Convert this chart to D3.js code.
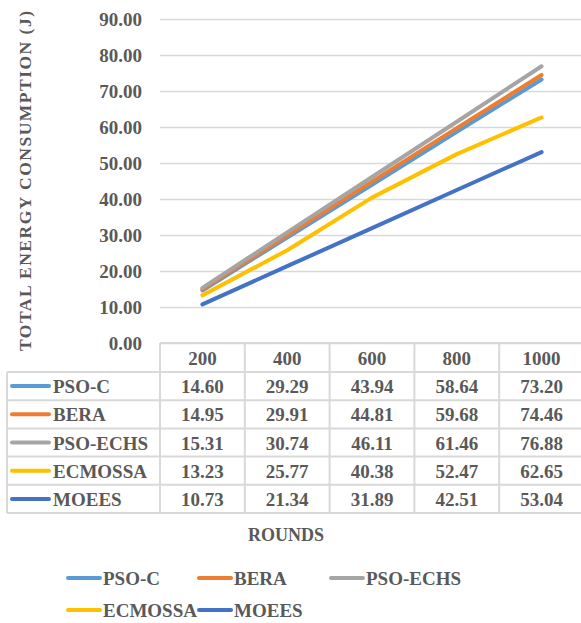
<!DOCTYPE html>
<html>
<head>
<meta charset="utf-8">
<script src="https://cdn.jsdelivr.net/npm/d3@7/dist/d3.min.js"></script>
<style>
  html, body { margin: 0; padding: 0; background: #fff; }
  svg { display: block; }
</style>
</head>
<body>
<svg id="chart" width="581" height="623"></svg>
<script>
const rounds = ["200", "400", "600", "800", "1000"];
const seriesNames = ["PSO-C", "BERA", "PSO-ECHS", "ECMOSSA", "MOEES"];
const psoC = [14.60, 29.29, 43.94, 58.64, 73.20];
const bera = [14.95, 29.91, 44.81, 59.68, 74.46];
const psoEchs = [15.31, 30.74, 46.11, 61.46, 76.88];
const ecmossa = [13.23, 25.77, 40.38, 52.47, 62.65];
const moees = [10.73, 21.34, 31.89, 42.51, 53.04];
const yTicks = [0, 10, 20, 30, 40, 50, 60, 70, 80, 90];
const colors = ["#5B9BD5", "#ED7D31", "#A5A5A5", "#FFC000", "#4472C4"];

(function () {
const series = [psoC, bera, psoEchs, ecmossa, moees].map((v, i) => ({ name: seriesNames[i], values: v, color: colors[i] }));
const FONT = "'Liberation Serif', Tinos, 'Times New Roman', 'DejaVu Serif', serif";

const svg = d3.select("#chart");
const pLeft = 160, pRight = 584, pTop = 19, pBottom = 343;
const x = d3.scaleBand().domain(rounds).range([pLeft, pRight]);
const y = d3.scaleLinear().domain([0, 90]).range([pBottom, pTop]);
const grid = "#D9D9D9";

const yAxis = d3.axisLeft(y).tickValues(yTicks).tickFormat(d3.format(".2f"))
  .tickSizeInner(-(pRight - pLeft)).tickSizeOuter(0).tickPadding(18);
const ga = svg.append("g").attr("transform", `translate(${pLeft},0)`).call(yAxis);
ga.select(".domain").remove();
ga.selectAll(".tick line").attr("stroke", grid).attr("stroke-width", 1.5);
ga.selectAll(".tick text").attr("font-size", 19);

svg.append("text").attr("transform", `translate(31,181) rotate(-90)`)
  .attr("text-anchor", "middle").attr("font-size", 17.5)
  .attr("textLength", 340).attr("lengthAdjust", "spacing")
  .text("TOTAL ENERGY CONSUMPTION (J)");

const line = d3.line().x((d, i) => x(rounds[i]) + x.bandwidth() / 2).y(d => y(d));
svg.append("g").selectAll("path").data(series).join("path")
  .attr("d", d => line(d.values)).attr("fill", "none")
  .attr("stroke", d => d.color).attr("stroke-width", 4).attr("stroke-linecap", "round").attr("stroke-linejoin", "round");

const tTop = 343, headerH = 29, rowH = 28.2, tLeft = 7;
const rowsTop = tTop + headerH;
const tg = svg.append("g");
const lineAttrs = s => s.attr("stroke", grid).attr("stroke-width", 2);
lineAttrs(tg.append("line").attr("x1", pLeft).attr("x2", pRight).attr("y1", tTop).attr("y2", tTop));
for (let r = 0; r <= series.length; r++) {
  const yy = rowsTop + r * rowH;
  lineAttrs(tg.append("line").attr("x1", tLeft).attr("x2", pRight).attr("y1", yy).attr("y2", yy));
}
const tBottom = rowsTop + series.length * rowH;
lineAttrs(tg.append("line").attr("x1", tLeft).attr("x2", tLeft).attr("y1", rowsTop).attr("y2", tBottom));
rounds.forEach(r => {
  lineAttrs(tg.append("line").attr("x1", x(r)).attr("x2", x(r)).attr("y1", tTop).attr("y2", tBottom));
});
tg.selectAll("text.hdr").data(rounds).join("text").attr("class", "hdr")
  .attr("x", d => x(d) + x.bandwidth() / 2).attr("y", tTop + headerH / 2 + 7)
  .attr("text-anchor", "middle").attr("font-size", 19).text(d => d);
series.forEach((s, i) => {
  const cy = rowsTop + i * rowH + rowH / 2;
  tg.append("line").attr("x1", 12).attr("x2", 49).attr("y1", cy).attr("y2", cy)
    .attr("stroke", s.color).attr("stroke-width", 4).attr("stroke-linecap", "round");
  tg.append("text").attr("x", 53).attr("y", cy + 7).attr("font-size", 19).text(s.name);
  s.values.forEach((v, j) => {
    tg.append("text").attr("x", x(rounds[j]) + x.bandwidth() / 2).attr("y", cy + 7)
      .attr("text-anchor", "middle").attr("font-size", 19).text(v.toFixed(2));
  });
});

svg.append("text").attr("x", 286).attr("y", 541).attr("text-anchor", "middle").attr("font-size", 18).text("ROUNDS");

const legendPos = [[67, 578], [198, 578], [330, 578], [67, 610], [198, 610]];
series.forEach((s, i) => {
  const [lx, ly] = legendPos[i];
  svg.append("line").attr("x1", lx + 1).attr("x2", lx + 33).attr("y1", ly).attr("y2", ly)
    .attr("stroke", s.color).attr("stroke-width", 4).attr("stroke-linecap", "round");
  svg.append("text").attr("x", lx + 36).attr("y", ly + 7).attr("font-size", 19).text(s.name);
});

svg.selectAll("text")
  .style("font-family", FONT)
  .style("font-weight", "bold")
  .style("fill", "#595959");
})();
</script>
</body>
</html>
